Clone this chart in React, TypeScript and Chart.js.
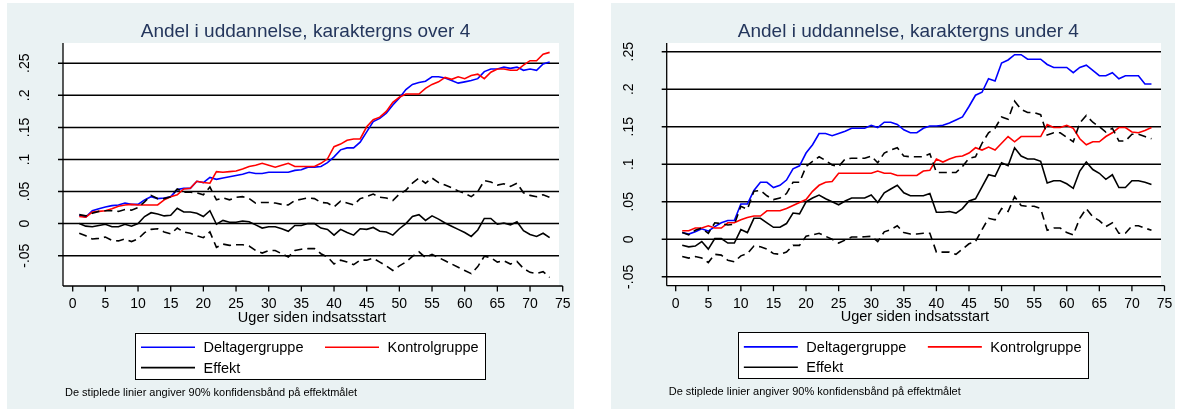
import React, { useEffect, useRef } from "react";
import { Chart, registerables } from "chart.js";

Chart.register(...registerables);

// Weeks since start of the programme (x values shared by every series)
const weeks = [
  1, 2, 3, 4, 5, 6, 7, 8, 9, 10, 11, 12, 13, 14, 15, 16, 17, 18, 19, 20,
  21, 22, 23, 24, 25, 26, 27, 28, 29, 30, 31, 32, 33, 34, 35, 36, 37, 38, 39, 40,
  41, 42, 43, 44, 45, 46, 47, 48, 49, 50, 51, 52, 53, 54, 55, 56, 57, 58, 59, 60,
  61, 62, 63, 64, 65, 66, 67, 68, 69, 70, 71, 72, 73,
];

const xTickValues = [0, 5, 10, 15, 20, 25, 30, 35, 40, 45, 50, 55, 60, 65, 70, 75];
const yTickValues = [-0.05, 0, 0.05, 0.1, 0.15, 0.2, 0.25];
const yTickLabels = ["-.05", "0", ".05", ".1", ".15", ".2", ".25"];

const legendNames = ["Deltagergruppe", "Kontrolgruppe", "Effekt"];
const xAxisTitle = "Uger siden indsatsstart";
const noteText = "De stiplede linier angiver 90% konfidensbånd på effektmålet";

// Panel 1: grade average above 4
const overTitle = "Andel i uddannelse, karaktergns over 4";
const overDeltager = [
  0.013, 0.010, 0.020, 0.023, 0.026, 0.028, 0.029, 0.032, 0.030, 0.030,
  0.037, 0.042, 0.039, 0.040, 0.042, 0.053, 0.055, 0.055, 0.066, 0.064,
  0.072, 0.069, 0.071, 0.073, 0.075, 0.077, 0.080, 0.078, 0.078, 0.080,
  0.080, 0.080, 0.080, 0.083, 0.084, 0.088, 0.088, 0.089, 0.095, 0.104,
  0.115, 0.118, 0.118, 0.127, 0.143, 0.159, 0.164, 0.172, 0.185, 0.196,
  0.209, 0.217, 0.220, 0.222, 0.229, 0.229, 0.227, 0.223, 0.219, 0.221,
  0.223, 0.226, 0.237, 0.241, 0.241, 0.244, 0.242, 0.244, 0.239, 0.241,
  0.239, 0.249, 0.252,
];
const overKontrol = [
  0.011, 0.010, 0.018, 0.019, 0.020, 0.023, 0.027, 0.029, 0.030, 0.029,
  0.029, 0.029, 0.029, 0.037, 0.042, 0.045, 0.054, 0.055, 0.066, 0.064,
  0.063, 0.081, 0.080, 0.081, 0.082, 0.085, 0.089, 0.091, 0.094, 0.091,
  0.088, 0.091, 0.094, 0.089, 0.089, 0.089, 0.089, 0.094, 0.101, 0.120,
  0.124, 0.130, 0.132, 0.132, 0.151, 0.162, 0.166, 0.175, 0.189, 0.197,
  0.202, 0.202, 0.202, 0.211, 0.217, 0.221, 0.228, 0.225, 0.229, 0.226,
  0.231, 0.233, 0.226, 0.236, 0.241, 0.241, 0.239, 0.239, 0.247, 0.254,
  0.254, 0.264, 0.267,
];
const overEffekt = [
  0.000, -0.004, -0.005, -0.003, -0.001, -0.005, -0.005, -0.001, -0.004, 0.000,
  0.011, 0.017, 0.015, 0.012, 0.013, 0.024, 0.018, 0.018, 0.016, 0.011,
  0.020, -0.001, 0.005, 0.002, 0.002, 0.004, 0.003, -0.002, -0.007, -0.005,
  -0.005, -0.008, -0.012, -0.003, -0.003, 0.000, 0.000, -0.007, -0.009, -0.018,
  -0.009, -0.014, -0.018, -0.008, -0.009, -0.006, -0.012, -0.013, -0.018, -0.008,
  0.000, 0.011, 0.014, 0.005, 0.012, 0.007, 0.001, -0.004, -0.009, -0.014,
  -0.020, -0.010, 0.008, 0.008, -0.001, 0.001, -0.002, 0.003, -0.011, -0.017,
  -0.020, -0.015, -0.022,
];
const overUpper = [
  0.014, 0.012, 0.016, 0.019, 0.020, 0.020, 0.019, 0.022, 0.021, 0.025,
  0.034, 0.044, 0.039, 0.039, 0.042, 0.054, 0.049, 0.049, 0.048, 0.045,
  0.057, 0.037, 0.040, 0.037, 0.041, 0.042, 0.039, 0.032, 0.033, 0.033,
  0.032, 0.030, 0.029, 0.036, 0.038, 0.040, 0.039, 0.033, 0.032, 0.026,
  0.035, 0.032, 0.029, 0.039, 0.042, 0.046, 0.041, 0.040, 0.036, 0.046,
  0.052, 0.063, 0.071, 0.063, 0.071, 0.064, 0.060, 0.056, 0.051, 0.047,
  0.042, 0.050, 0.067, 0.065, 0.060, 0.062, 0.058, 0.063, 0.048, 0.044,
  0.042, 0.045, 0.041,
];
const overLower = [
  -0.015, -0.019, -0.024, -0.023, -0.021, -0.026, -0.027, -0.024, -0.028, -0.024,
  -0.014, -0.009, -0.008, -0.013, -0.016, -0.007, -0.013, -0.015, -0.019, -0.022,
  -0.013, -0.037, -0.032, -0.034, -0.033, -0.033, -0.035, -0.042, -0.046, -0.042,
  -0.042, -0.047, -0.052, -0.042, -0.040, -0.039, -0.039, -0.047, -0.052, -0.063,
  -0.057, -0.060, -0.064, -0.057, -0.057, -0.054, -0.060, -0.066, -0.073, -0.066,
  -0.060, -0.051, -0.044, -0.053, -0.048, -0.053, -0.058, -0.063, -0.068, -0.073,
  -0.078, -0.067, -0.051, -0.053, -0.060, -0.058, -0.063, -0.059, -0.070, -0.076,
  -0.078, -0.075, -0.084,
];

// Panel 2: grade average below 4
const underTitle = "Andel i uddannelse, karaktergns under 4";
const underDeltager = [
  0.009, 0.007, 0.010, 0.014, 0.011, 0.017, 0.022, 0.025, 0.025, 0.047,
  0.047, 0.065, 0.076, 0.076, 0.069, 0.072, 0.079, 0.094, 0.098, 0.115,
  0.126, 0.141, 0.141, 0.138, 0.141, 0.144, 0.148, 0.148, 0.148, 0.152,
  0.149, 0.156, 0.156, 0.153, 0.146, 0.142, 0.142, 0.148, 0.151, 0.151,
  0.152, 0.155, 0.159, 0.163, 0.177, 0.192, 0.196, 0.214, 0.211, 0.235,
  0.239, 0.246, 0.246, 0.240, 0.240, 0.240, 0.233, 0.229, 0.229, 0.229,
  0.222, 0.229, 0.232, 0.225, 0.218, 0.218, 0.222, 0.214, 0.218, 0.218,
  0.218, 0.207, 0.207,
];
const underKontrol = [
  0.0115, 0.0115, 0.015, 0.015, 0.018, 0.015, 0.015, 0.022, 0.022, 0.026,
  0.029, 0.031, 0.031, 0.038, 0.038, 0.038, 0.041, 0.045, 0.049, 0.053,
  0.064, 0.072, 0.076, 0.077, 0.088, 0.088, 0.088, 0.088, 0.088, 0.088,
  0.091, 0.088, 0.088, 0.085, 0.085, 0.085, 0.085, 0.091, 0.092, 0.107,
  0.103, 0.107, 0.110, 0.111, 0.115, 0.122, 0.119, 0.123, 0.119, 0.128,
  0.137, 0.130, 0.137, 0.137, 0.137, 0.137, 0.153, 0.149, 0.149, 0.152,
  0.148, 0.134, 0.126, 0.130, 0.130, 0.137, 0.142, 0.149, 0.149, 0.143,
  0.142, 0.145, 0.149,
];
const underEffekt = [
  -0.008, -0.010, -0.009, -0.003, -0.013, 0.001, 0.001, -0.005, -0.005, 0.013,
  0.009, 0.028, 0.028, 0.022, 0.016, 0.016, 0.021, 0.035, 0.034, 0.050,
  0.055, 0.059, 0.054, 0.050, 0.046, 0.051, 0.055, 0.055, 0.055, 0.059,
  0.049, 0.062, 0.067, 0.072, 0.062, 0.058, 0.058, 0.058, 0.061, 0.036,
  0.036, 0.037, 0.035, 0.041, 0.051, 0.054, 0.070, 0.086, 0.084, 0.102,
  0.098, 0.122, 0.111, 0.107, 0.107, 0.104, 0.075, 0.078, 0.078, 0.074,
  0.068, 0.091, 0.103, 0.093, 0.088, 0.080, 0.086, 0.069, 0.069, 0.078,
  0.078, 0.076, 0.073,
];
const underUpper = [
  0.009, 0.006, 0.012, 0.015, 0.008, 0.022, 0.021, 0.019, 0.020, 0.044,
  0.040, 0.064, 0.065, 0.058, 0.053, 0.055, 0.061, 0.076, 0.076, 0.097,
  0.104, 0.110, 0.105, 0.099, 0.097, 0.107, 0.108, 0.108, 0.108, 0.111,
  0.102, 0.115, 0.119, 0.122, 0.111, 0.110, 0.110, 0.110, 0.114, 0.089,
  0.089, 0.089, 0.089, 0.097, 0.108, 0.110, 0.128, 0.142, 0.148, 0.163,
  0.160, 0.184, 0.173, 0.169, 0.169, 0.166, 0.139, 0.142, 0.142, 0.136,
  0.130, 0.155, 0.165, 0.156, 0.150, 0.143, 0.148, 0.131, 0.131, 0.140,
  0.140, 0.137, 0.134,
];
const underLower = [
  -0.023, -0.025, -0.023, -0.025, -0.031, -0.020, -0.021, -0.028, -0.030, -0.022,
  -0.019, -0.009, -0.010, -0.013, -0.019, -0.020, -0.017, -0.008, -0.008, 0.004,
  0.006, 0.008, 0.004, 0.000, -0.005, -0.001, 0.003, 0.003, 0.0035, 0.004,
  -0.003, 0.010, 0.013, 0.018, 0.009, 0.007, 0.007, 0.008, 0.008, -0.017,
  -0.017, -0.017, -0.020, -0.013, -0.006, -0.003, 0.013, 0.028, 0.026, 0.041,
  0.037, 0.057, 0.045, 0.044, 0.044, 0.041, 0.012, 0.015, 0.015, 0.009,
  0.006, 0.028, 0.041, 0.030, 0.025, 0.017, 0.022, 0.008, 0.008, 0.018,
  0.018, 0.015, 0.012,
];

const FONT = '"Liberation Sans", Arial, Helvetica, sans-serif';
const PANEL_BG = "#EAF2F3";
const TITLE_COLOR = "#24365c";
const BLUE = "#0000FF";
const RED = "#FF0000";
const BLACK = "#000000";

type PanelProps = {
  title: string;
  deltager: number[];
  kontrol: number[];
  effekt: number[];
  upper: number[];
  lower: number[];
  left: number;
  top: number;
  width: number;
  height: number;
  padding: { left: number; top: number; right: number; bottom: number };
  plotWidth: number;
  xMin: number;
  yMin: number;
  yMax: number;
};

function toPoints(values: number[]) {
  return weeks.map((w, i) => ({ x: w, y: values[i] }));
}

function framePlugin(title: string, plotWidth: number) {
  return {
    id: "stataFrame",
    beforeDraw(chart: any) {
      const { ctx, chartArea: a, scales } = chart;
      const xs = scales.x;
      const ys = scales.y;
      const plotRight = a.left + plotWidth;
      const plotCenter = (a.left + plotRight) / 2;

      const seg = (x1: number, y1: number, x2: number, y2: number) => {
        ctx.beginPath();
        ctx.moveTo(x1, y1);
        ctx.lineTo(x2, y2);
        ctx.stroke();
      };

      ctx.save();
      // graph region and plot region
      ctx.fillStyle = PANEL_BG;
      ctx.fillRect(0, 0, chart.width, chart.height);
      ctx.fillStyle = "#FFFFFF";
      ctx.fillRect(a.left, a.top, plotRight - a.left, a.bottom - a.top);

      // horizontal grid lines (with tick stubs to the left)
      ctx.strokeStyle = BLACK;
      ctx.lineWidth = 1.5;
      yTickValues.forEach((v) => {
        const y = ys.getPixelForValue(v);
        seg(a.left - 5, y, plotRight, y);
      });

      // axis lines
      ctx.lineWidth = 1.3;
      seg(a.left, a.top, a.left, a.bottom);
      seg(a.left, a.bottom, a.right, a.bottom);

      // x ticks and labels
      ctx.fillStyle = BLACK;
      ctx.font = `14px ${FONT}`;
      ctx.textAlign = "center";
      ctx.textBaseline = "alphabetic";
      xTickValues.forEach((v) => {
        const x = xs.getPixelForValue(v);
        seg(x, a.bottom, x, a.bottom + 5.5);
        ctx.fillText(String(v), x, a.bottom + 22.3);
      });

      // y labels, rotated to read bottom-to-top
      yTickValues.forEach((v, i) => {
        const y = ys.getPixelForValue(v);
        ctx.save();
        ctx.translate(a.left - 34, y);
        ctx.rotate(-Math.PI / 2);
        ctx.textAlign = "center";
        ctx.fillText(yTickLabels[i], 0, 0);
        ctx.restore();
      });

      // x axis title
      ctx.font = `14.5px ${FONT}`;
      ctx.textAlign = "center";
      ctx.fillText(xAxisTitle, plotCenter + 1, a.bottom + 35.5);

      // chart title
      ctx.fillStyle = TITLE_COLOR;
      ctx.font = `19px ${FONT}`;
      ctx.fillText(title, plotCenter - 5.5, 33.7);

      // legend box
      const boxW = 350;
      const boxH = 46.3;
      const boxL = plotCenter - 1 - boxW / 2;
      const boxT = a.bottom + 46.5;
      ctx.fillStyle = "#FFFFFF";
      ctx.fillRect(boxL, boxT, boxW, boxH);
      ctx.strokeStyle = BLACK;
      ctx.lineWidth = 1;
      ctx.strokeRect(Math.round(boxL) + 0.5, Math.round(boxT) + 0.5, boxW, Math.round(boxH));

      const keys = [
        { name: legendNames[0], color: BLUE, dx: 6, row: 0 },
        { name: legendNames[1], color: RED, dx: 190, row: 0 },
        { name: legendNames[2], color: BLACK, dx: 6, row: 1 },
      ];
      ctx.font = `14.5px ${FONT}`;
      ctx.textAlign = "left";
      keys.forEach((k) => {
        const base = boxT + 19.7 + k.row * 20.4;
        ctx.strokeStyle = k.color;
        ctx.lineWidth = 1.6;
        seg(boxL + k.dx, base - 5, boxL + k.dx + 54, base - 5);
        ctx.fillStyle = BLACK;
        ctx.fillText(k.name, boxL + k.dx + 62.5, base);
      });

      // note
      ctx.font = `11px ${FONT}`;
      ctx.fillStyle = BLACK;
      ctx.textAlign = "left";
      ctx.fillText(noteText, a.left + 2, a.bottom + 109.6);

      ctx.restore();
    },
  };
}

function Panel(props: PanelProps) {
  const ref = useRef<HTMLCanvasElement>(null);

  useEffect(() => {
    const canvas = ref.current;
    if (!canvas) return;
    const line = (data: number[], color: string, order: number, dashed = false) => ({
      data: toPoints(data),
      borderColor: color,
      backgroundColor: color,
      borderWidth: 1.6,
      borderDash: dashed ? [8, 5] : [],
      pointRadius: 0,
      fill: false,
      tension: 0,
      order,
    });

    const chart = new Chart(canvas, {
      type: "line",
      data: {
        datasets: [
          { label: legendNames[0], ...line(props.deltager, BLUE, 5) },
          { label: legendNames[1], ...line(props.kontrol, RED, 4) },
          { label: legendNames[2], ...line(props.effekt, BLACK, 3) },
          { label: "lower", ...line(props.lower, BLACK, 2, true) },
          { label: "upper", ...line(props.upper, BLACK, 1, true) },
        ],
      },
      options: {
        animation: false,
        responsive: true,
        maintainAspectRatio: false,
        devicePixelRatio: 1,
        events: [],
        layout: { padding: props.padding },
        scales: {
          x: { type: "linear", min: props.xMin, max: 75, display: false },
          y: { type: "linear", min: props.yMin, max: props.yMax, display: false },
        },
        plugins: {
          legend: { display: false },
          tooltip: { enabled: false },
          title: { display: false },
        },
      },
      plugins: [framePlugin(props.title, props.plotWidth)],
    } as any);

    return () => chart.destroy();
  }, [props]);

  return (
    <div
      style={{
        position: "absolute",
        left: props.left,
        top: props.top,
        width: props.width,
        height: props.height,
      }}
    >
      <canvas ref={ref} style={{ display: "block" }} />
    </div>
  );
}

const overPanel: PanelProps = {
  title: overTitle,
  deltager: overDeltager,
  kontrol: overKontrol,
  effekt: overEffekt,
  upper: overUpper,
  lower: overLower,
  left: 7,
  top: 3,
  width: 567,
  height: 406,
  padding: { left: 56, top: 40, right: 11.3, bottom: 123 },
  plotWidth: 496,
  xMin: -1.485,
  yMin: -0.0973,
  yMax: 0.2816,
};

const underPanel: PanelProps = {
  title: underTitle,
  deltager: underDeltager,
  kontrol: underKontrol,
  effekt: underEffekt,
  upper: underUpper,
  lower: underLower,
  left: 611,
  top: 3,
  width: 564,
  height: 406,
  padding: { left: 55.7, top: 40, right: 10.5, bottom: 123.3 },
  plotWidth: 494.3,
  xMin: -1.381,
  yMin: -0.0618,
  yMax: 0.2616,
};

export default function App() {
  return (
    <div>
      <Panel {...overPanel} />
      <Panel {...underPanel} />
    </div>
  );
}
